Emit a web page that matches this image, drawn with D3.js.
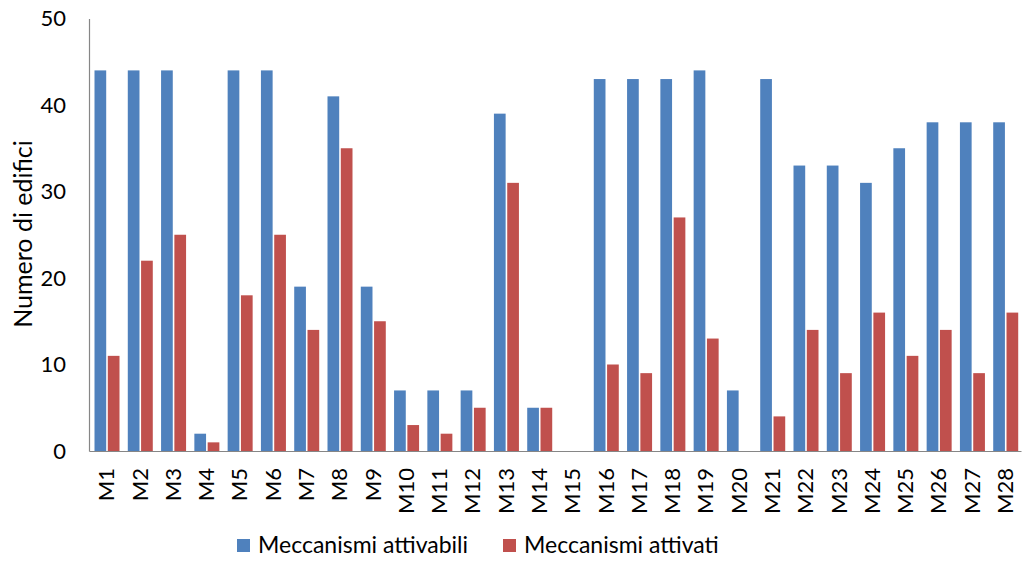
<!DOCTYPE html>
<html><head><meta charset="utf-8">
<script src="https://cdn.jsdelivr.net/npm/d3@7"></script>
<style>body{margin:0;background:#fff}svg{display:block}text{font-family:Lato,"Open Sans",sans-serif;fill:#000}</style>
</head><body><svg id="c" width="1023" height="561"></svg>
<script>
const categories = ["M1","M2","M3","M4","M5","M6","M7","M8","M9","M10","M11","M12","M13","M14","M15","M16","M17","M18","M19","M20","M21","M22","M23","M24","M25","M26","M27","M28"];
const attivabili = [44,44,44,2,44,44,19,41,19,7,7,7,39,5,0,43,43,43,44,7,43,33,33,31,35,38,38,38];
const attivati = [11,22,25,1,18,25,14,35,15,3,2,5,31,5,0,10,9,27,13,0,4,14,9,16,11,14,9,16];
const seriesNames = ["Meccanismi attivabili","Meccanismi attivati"];
const colors = ["#4F81BD","#C0504D"];
const yTicks = [0,10,20,30,40,50];

const svg = d3.select("#c");
const L = 89, R = 1021, T = 18.5, B = 451;
const x = d3.scaleBand().domain(categories).range([L, R]).paddingInner(0).paddingOuter(0);
const y = d3.scaleLinear().domain([0,50]).range([B, T]);
const inner = d3.scaleBand().domain([0,1]).range([5.5, 30.5]).paddingInner(0.12);

const series = [attivabili, attivati];
series.forEach((vals, si) => {
  svg.append("g").selectAll("rect").data(vals).join("rect")
    .attr("x", (d,i) => x(categories[i]) + inner(si))
    .attr("width", inner.bandwidth())
    .attr("y", d => y(d))
    .attr("height", d => B - y(d))
    .attr("fill", colors[si]);
});

// y axis
const ya = svg.append("g").attr("transform", `translate(${L},0)`)
  .call(d3.axisLeft(y).tickValues(yTicks).tickSize(0).tickPadding(23));
ya.select(".domain").attr("stroke", "#868686").attr("stroke-width", 1.2);
ya.selectAll("text").style("font-size", "22px").style("font-family", "Lato, sans-serif").attr("fill","#000");

// x axis
const xa = svg.append("g").attr("transform", `translate(0,${B})`)
  .call(d3.axisBottom(x).tickSize(0).tickPadding(0));
xa.select(".domain").attr("stroke", "#868686").attr("stroke-width", 1.2);
xa.selectAll("text")
  .style("font-size", "22px").style("font-family", "Lato, sans-serif").attr("fill","#000")
  .attr("transform", "rotate(-90)")
  .attr("text-anchor", "end")
  .attr("x", -17).attr("y", 1).attr("dy", "0.35em");

// y title
svg.append("text").attr("transform", `translate(23,234) rotate(-90)`)
  .attr("text-anchor", "middle").attr("dy", "0.35em")
  .style("font-size", "25px").text("Numero di edifici");

// legend
const legX = [237, 503];
seriesNames.forEach((n, i) => {
  svg.append("rect").attr("x", legX[i]).attr("y", 539).attr("width", 13).attr("height", 13).attr("fill", colors[i]);
  svg.append("text").attr("x", legX[i] + 21).attr("y", 545).attr("dy", "0.35em")
    .style("font-size", "23px").text(n);
});
</script></body></html>
